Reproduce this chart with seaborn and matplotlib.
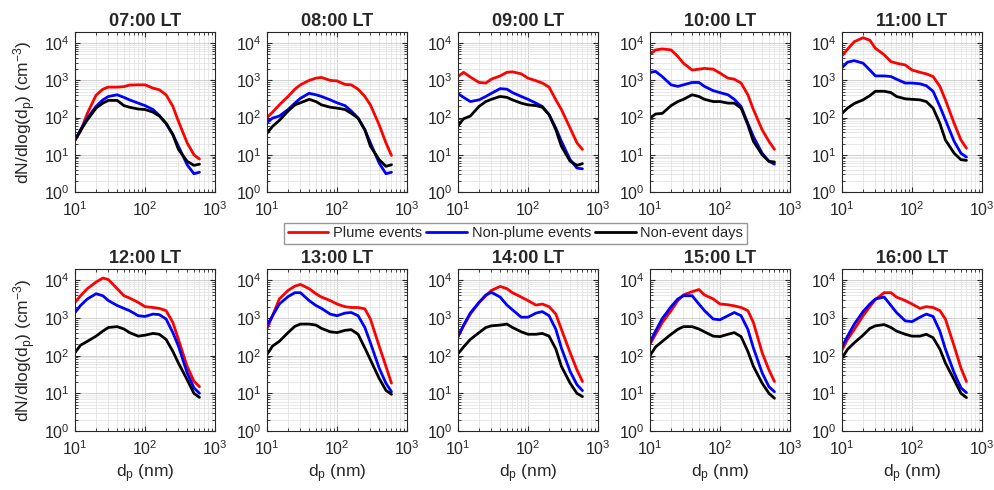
import matplotlib
matplotlib.use("Agg")
import matplotlib.pyplot as plt
import numpy as np
import pandas as pd
import seaborn as sns

# particle diameter (nm) where the curves were read
DIAM = [10, 12, 15, 20, 25, 30, 40, 50, 60, 80, 100, 130, 160, 200, 250, 300, 400, 500, 600]

HOURS = ["07:00 LT", "08:00 LT", "09:00 LT", "10:00 LT", "11:00 LT",
         "12:00 LT", "13:00 LT", "14:00 LT", "15:00 LT", "16:00 LT"]

SERIES = ["Plume events", "Non-plume events", "Non-event days"]
COLORS = {"Plume events": "#ff0000", "Non-plume events": "#0000ff", "Non-event days": "#000000"}

# dN/dlog(dp) (cm-3), one list per hour
plume = [
    [25, 43, 130, 400, 580, 660, 660, 680, 750, 760, 760, 620, 560, 410, 200, 80, 21, 10, 7.7],
    [100, 140, 220, 370, 580, 760, 1000, 1150, 1200, 1000, 970, 780, 760, 580, 370, 220, 64, 21, 9.6],
    [1270, 1650, 1230, 880, 850, 1080, 1320, 1650, 1700, 1500, 1150, 980, 850, 660, 300, 165, 52, 21, 14],
    [5000, 6600, 7000, 6600, 4400, 2900, 1900, 2000, 2100, 2000, 1570, 1150, 1080, 850, 410, 165, 47, 23, 14],
    [4600, 6900, 11000, 14000, 12000, 7300, 4900, 3200, 2900, 2600, 1900, 1650, 1500, 1270, 690, 300, 70, 25, 15],
    [2600, 3900, 6000, 9000, 11500, 10500, 6000, 3900, 3400, 2600, 2000, 1900, 1800, 1570, 760, 270, 52, 21, 15],
    [530, 1150, 3200, 5400, 7000, 7800, 6000, 4400, 3600, 2900, 2350, 2000, 1900, 1900, 1750, 940, 180, 52, 18.6],
    [320, 620, 1270, 2600, 3900, 5400, 6900, 6000, 4700, 3600, 2900, 2200, 2350, 2000, 1270, 500, 120, 42, 20.6],
    [200, 370, 760, 1570, 2900, 4100, 5000, 5700, 4100, 3200, 2350, 2250, 2100, 1900, 1570, 760, 120, 42, 20.6],
    [140, 270, 500, 1150, 2000, 3100, 4700, 4700, 3600, 2900, 2350, 1800, 2000, 1900, 1570, 940, 180, 47, 20.6],
]
non_plume = [
    [25, 47, 97, 200, 300, 370, 410, 350, 300, 245, 210, 165, 115, 70, 35, 17, 5.4, 3.1, 3.4],
    [74, 97, 110, 165, 245, 330, 450, 410, 370, 300, 250, 210, 150, 97, 47, 21, 6, 3.1, 3.4],
    [440, 350, 270, 300, 370, 450, 600, 580, 470, 370, 310, 245, 200, 120, 52, 23, 7.4, 4.4, 4.2],
    [1630, 1750, 1260, 760, 690, 760, 880, 880, 690, 530, 470, 410, 310, 200, 70, 31, 11, 6.7, 5.6],
    [2200, 3100, 3400, 2900, 1900, 1320, 1320, 1270, 1080, 850, 850, 810, 720, 510, 200, 87, 23, 11, 8.7],
    [1400, 2150, 3200, 4400, 3900, 2900, 2150, 1800, 1570, 1150, 1100, 1270, 1230, 940, 410, 180, 35, 14, 10],
    [620, 1150, 2350, 3700, 4700, 4700, 2900, 2150, 1800, 1270, 1150, 1350, 1400, 1150, 560, 220, 47, 18.6, 11],
    [320, 640, 1360, 2600, 4100, 4800, 3600, 2200, 1650, 1050, 1050, 1350, 1480, 1150, 500, 160, 38, 17, 11.8],
    [230, 450, 970, 2000, 3200, 3900, 3900, 2350, 1570, 940, 900, 1150, 1400, 1150, 500, 160, 35, 15, 11],
    [170, 330, 690, 1480, 2350, 3200, 3600, 2150, 1400, 840, 800, 1050, 1270, 1100, 450, 150, 35, 14, 10.4],
]
non_event = [
    [25, 45, 87, 180, 245, 290, 290, 210, 190, 170, 165, 140, 110, 70, 35, 14, 6.7, 5.2, 5.6],
    [38, 58, 84, 150, 220, 250, 310, 270, 220, 190, 180, 165, 130, 97, 47, 17, 7.4, 4.9, 5.4],
    [60, 93, 110, 200, 270, 310, 370, 350, 300, 245, 220, 210, 190, 120, 47, 17, 6.7, 5.2, 5.8],
    [97, 125, 130, 210, 270, 310, 410, 370, 310, 270, 270, 245, 245, 180, 64, 23, 10, 6.7, 6.4],
    [130, 180, 240, 300, 390, 510, 510, 470, 370, 320, 310, 300, 270, 180, 70, 25, 11, 7.4, 7.1],
    [120, 190, 240, 330, 450, 560, 590, 510, 410, 330, 350, 390, 370, 270, 130, 64, 23, 10, 7.8],
    [107, 180, 240, 410, 600, 690, 690, 650, 530, 430, 410, 470, 490, 370, 160, 78, 25, 12, 9.4],
    [112, 170, 270, 410, 560, 620, 650, 690, 560, 430, 370, 370, 390, 330, 150, 52, 18.6, 10, 8.2],
    [100, 170, 240, 370, 500, 590, 590, 510, 430, 330, 320, 370, 410, 320, 130, 52, 18.6, 10, 7.4],
    [87, 147, 220, 350, 530, 620, 670, 560, 450, 370, 330, 330, 370, 300, 150, 64, 23, 10, 7.7],
]

rows = []
for i, hour in enumerate(HOURS):
    for name, vals in zip(SERIES, [plume[i], non_plume[i], non_event[i]]):
        for d, v in zip(DIAM, vals):
            rows.append({"hour": hour, "series": name, "dp": d, "dndlogdp": v})
df = pd.DataFrame(rows)

sns.set_style("ticks")
plt.rcParams["font.family"] = ["Liberation Sans", "DejaVu Sans"]
plt.rcParams["mathtext.fontset"] = "custom"
plt.rcParams["mathtext.rm"] = "Liberation Sans"
plt.rcParams["mathtext.it"] = "Liberation Sans:italic"

fig = plt.figure(figsize=(9.95, 4.9), dpi=100)

lefts = [75, 267, 458, 650, 842]
for i, hour in enumerate(HOURS):
    r, c = divmod(i, 5)
    x0 = lefts[c] / 995
    if r == 0:
        ax = fig.add_axes([x0, 1 - 192 / 490, 140 / 995, 160 / 490])
    else:
        ax = fig.add_axes([x0, 1 - 431 / 490, 140 / 995, 162 / 490])
    sub = df[df["hour"] == hour]
    sns.lineplot(data=sub, x="dp", y="dndlogdp", hue="series", hue_order=SERIES,
                 palette=COLORS, estimator=None, linewidth=2, legend=False, ax=ax)
    ax.set_xscale("log")
    ax.set_yscale("log")
    ax.set_xlim(10, 1000)
    ax.set_ylim(1, 2e4)
    ax.set_xticks([10, 100, 1000])
    ax.set_yticks([1, 10, 100, 1000, 10000])
    ax.grid(True, which="major", color="#d0d0d0", linewidth=0.7)
    ax.grid(True, which="minor", color="#e4e4e4", linewidth=0.6)
    ax.set_axisbelow(True)
    ax.tick_params(which="both", direction="in", labelsize=11.5, colors="#262626",
                   top=True, right=True)
    ax.tick_params(which="minor", length=2)
    ax.tick_params(axis="x", which="major", pad=6)
    ax.tick_params(axis="y", which="major", pad=4)
    for s in ax.spines.values():
        s.set_color("#262626")
        s.set_linewidth(0.8)
    ax.set_title(hour, fontsize=13, fontweight="bold", pad=4)
    ax.set_xlabel(r"d$_\mathrm{p}$ (nm)" if r == 1 else "", fontsize=12.5, labelpad=3)
    ax.set_ylabel(r"dN/dlog(d$_\mathrm{p}$) (cm$^{-3}$)" if c == 0 else "", fontsize=12.5)

handles = [plt.Line2D([], [], color=COLORS[s], linewidth=2) for s in SERIES]
fig.legend(handles, SERIES, loc="center", bbox_to_anchor=(0.518, 0.524), ncol=3,
           fontsize=10.5, frameon=True, fancybox=False, edgecolor="#7f7f7f",
           handlelength=2.8, handletextpad=0.3, columnspacing=0.3, borderpad=0.25)

fig.savefig("out.png", dpi=100)
